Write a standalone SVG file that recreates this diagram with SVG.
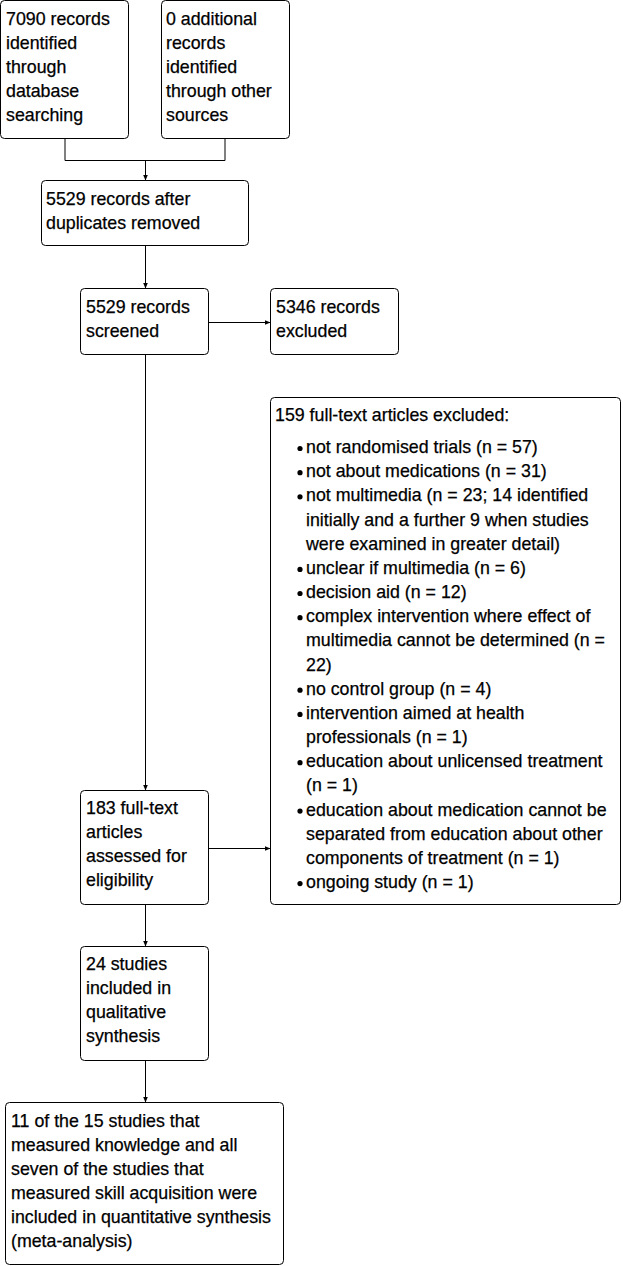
<svg xmlns="http://www.w3.org/2000/svg" width="623" height="1266" viewBox="0 0 623 1266">
<defs>
<style>
.box{fill:#fff;stroke:#000;stroke-width:1}
.t{font-family:"Liberation Sans",Arial,sans-serif;font-size:17.8px;fill:#000;stroke:#000;stroke-width:0.25}
.c{fill:none;stroke:#000;stroke-width:1}
</style>
<marker id="ah" markerUnits="userSpaceOnUse" markerWidth="6" markerHeight="6" refX="6" refY="3" orient="auto">
<path d="M0,0.5 L6,3 L0,5.5 z" fill="#000"/>
</marker>
</defs>
<rect width="623" height="1266" fill="#fff"/>
<g id="connectors">
<path class="c" d="M65,139 V160.5 H225 V139"/>
<path class="c" d="M145.5,160.5 V180.5" marker-end="url(#ah)"/>
<path class="c" d="M145.5,246 V288.5" marker-end="url(#ah)"/>
<path class="c" d="M209,322.5 H270.5" marker-end="url(#ah)"/>
<path class="c" d="M145.5,355 V790.5" marker-end="url(#ah)"/>
<path class="c" d="M209,848.5 H270.5" marker-end="url(#ah)"/>
<path class="c" d="M145.5,905 V946.5" marker-end="url(#ah)"/>
<path class="c" d="M145.5,1061 V1102.5" marker-end="url(#ah)"/>
</g>
<g id="n1">
<rect class="box" x="0.5" y="0.5" width="128" height="138" rx="4"/>
<text class="t" x="6" y="25">7090 records</text>
<text class="t" x="6" y="49">identified</text>
<text class="t" x="6" y="73">through</text>
<text class="t" x="6" y="97">database</text>
<text class="t" x="6" y="121">searching</text>
</g>
<g id="n2">
<rect class="box" x="161.5" y="0.5" width="128" height="138" rx="4"/>
<text class="t" x="166" y="25">0 additional</text>
<text class="t" x="166" y="49">records</text>
<text class="t" x="166" y="73">identified</text>
<text class="t" x="166" y="97">through other</text>
<text class="t" x="166" y="121">sources</text>
</g>
<g id="n3">
<rect class="box" x="41.5" y="180.5" width="207" height="65" rx="4"/>
<text class="t" x="46" y="205">5529 records after</text>
<text class="t" x="46" y="229">duplicates removed</text>
</g>
<g id="n4">
<rect class="box" x="80.5" y="288.5" width="128" height="66" rx="4"/>
<text class="t" x="86" y="313">5529 records</text>
<text class="t" x="86" y="337">screened</text>
</g>
<g id="n5">
<rect class="box" x="270.5" y="288.5" width="128" height="66" rx="4"/>
<text class="t" x="276" y="313">5346 records</text>
<text class="t" x="276" y="337">excluded</text>
</g>
<g id="n6">
<rect class="box" x="270.5" y="397.5" width="350" height="507" rx="4"/>
<text class="t" x="275" y="421">159 full-text articles excluded:</text>
<g fill="#000">
<circle cx="300" cy="448.5" r="2.6"/>
<circle cx="300" cy="472.7" r="2.6"/>
<circle cx="300" cy="496.8" r="2.6"/>
<circle cx="300" cy="569.4" r="2.6"/>
<circle cx="300" cy="593.5" r="2.6"/>
<circle cx="300" cy="617.7" r="2.6"/>
<circle cx="300" cy="690.2" r="2.6"/>
<circle cx="300" cy="714.4" r="2.6"/>
<circle cx="300" cy="762.7" r="2.6"/>
<circle cx="300" cy="811.1" r="2.6"/>
<circle cx="300" cy="883.6" r="2.6"/>
</g>
<text class="t" x="306" y="453">not randomised trials (n = 57)</text>
<text class="t" x="306" y="477.2">not about medications (n = 31)</text>
<text class="t" x="306" y="501.3">not multimedia (n = 23; 14 identified</text>
<text class="t" x="306" y="525.5">initially and a further 9 when studies</text>
<text class="t" x="306" y="549.7">were examined in greater detail)</text>
<text class="t" x="306" y="573.9">unclear if multimedia (n = 6)</text>
<text class="t" x="306" y="598">decision aid (n = 12)</text>
<text class="t" x="306" y="622.2">complex intervention where effect of</text>
<text class="t" x="306" y="646.4">multimedia cannot be determined (n =</text>
<text class="t" x="306" y="670.5">22)</text>
<text class="t" x="306" y="694.7">no control group (n = 4)</text>
<text class="t" x="306" y="718.9">intervention aimed at health</text>
<text class="t" x="306" y="743">professionals (n = 1)</text>
<text class="t" x="306" y="767.2">education about unlicensed treatment</text>
<text class="t" x="306" y="791.4">(n = 1)</text>
<text class="t" x="306" y="815.6">education about medication cannot be</text>
<text class="t" x="306" y="839.7">separated from education about other</text>
<text class="t" x="306" y="863.9">components of treatment (n = 1)</text>
<text class="t" x="306" y="888.1">ongoing study (n = 1)</text>
</g>
<g id="n7">
<rect class="box" x="80.5" y="790.5" width="128" height="114" rx="4"/>
<text class="t" x="86" y="814">183 full-text</text>
<text class="t" x="86" y="838">articles</text>
<text class="t" x="86" y="862">assessed for</text>
<text class="t" x="86" y="886">eligibility</text>
</g>
<g id="n8">
<rect class="box" x="80.5" y="946.5" width="128" height="114" rx="4"/>
<text class="t" x="86" y="970">24 studies</text>
<text class="t" x="86" y="994">included in</text>
<text class="t" x="86" y="1018">qualitative</text>
<text class="t" x="86" y="1042">synthesis</text>
</g>
<g id="n9">
<rect class="box" x="5.5" y="1102.5" width="278" height="162" rx="4"/>
<text class="t" x="11" y="1127">11 of the 15 studies that</text>
<text class="t" x="11" y="1151">measured knowledge and all</text>
<text class="t" x="11" y="1175">seven of the studies that</text>
<text class="t" x="11" y="1199">measured skill acquisition were</text>
<text class="t" x="11" y="1223">included in quantitative synthesis</text>
<text class="t" x="11" y="1247">(meta-analysis)</text>
</g>
</svg>
